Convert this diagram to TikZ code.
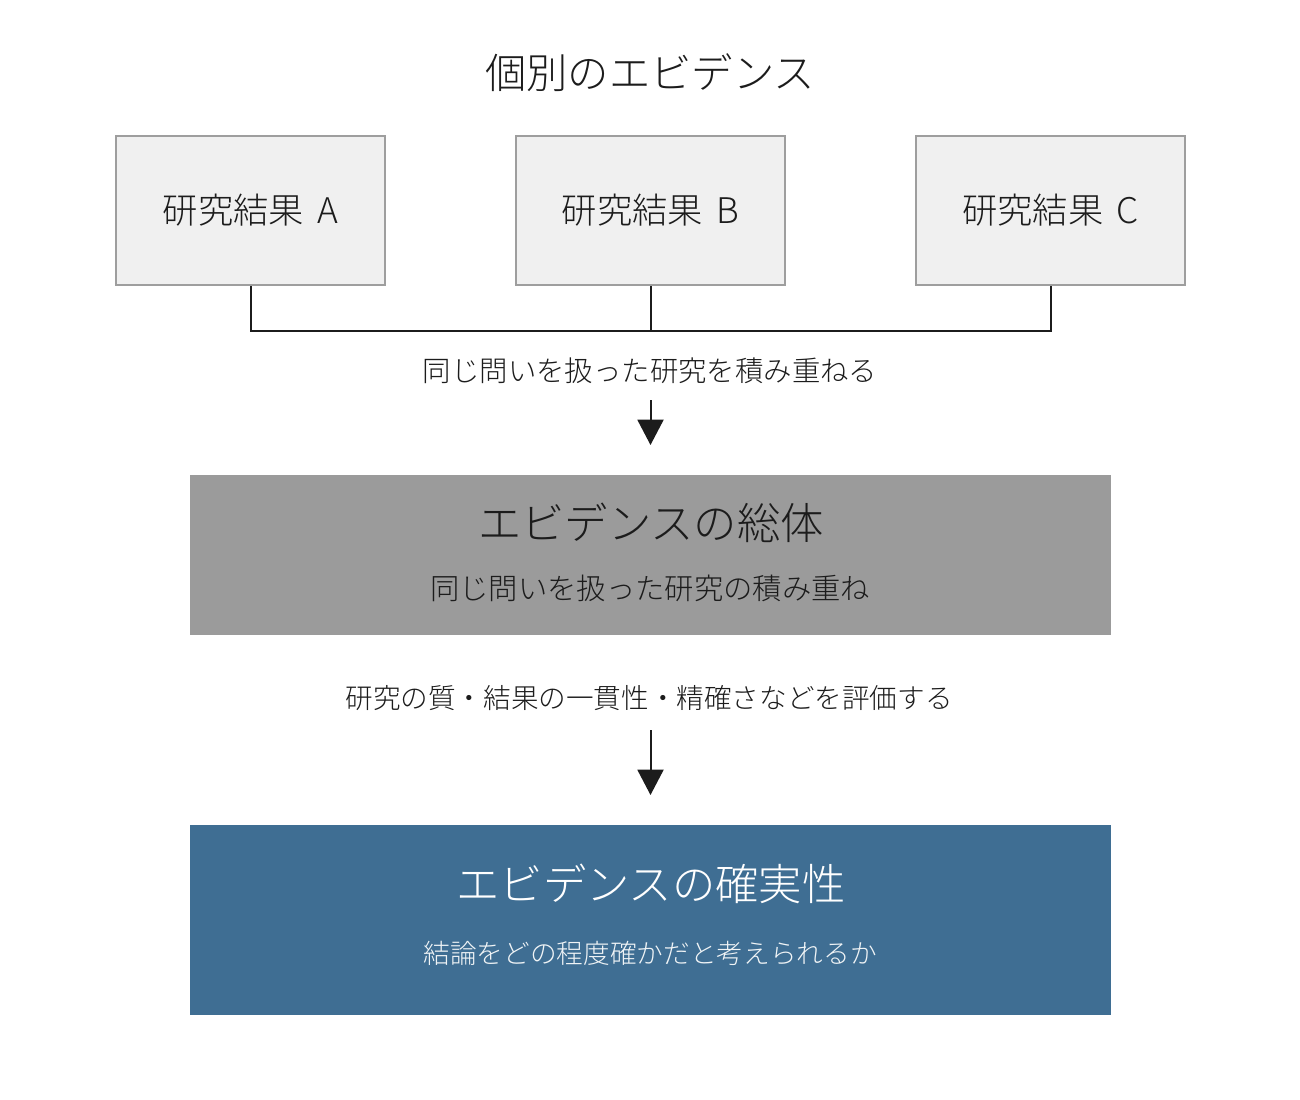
\documentclass[tikz,border=0pt]{standalone}
\usepackage{fontspec}
\setmainfont{Noto Sans CJK JP}[UprightFont={* Light}]
\usepackage{xcolor}
\usepackage{tikz}
\usetikzlibrary{arrows.meta}

\definecolor{resultfill}{HTML}{F0F0F0}
\definecolor{resultline}{HTML}{9E9E9E}
\definecolor{bodyfill}{HTML}{9B9B9B}
\definecolor{certfill}{HTML}{3F6E93}
\definecolor{ink}{HTML}{1C1C1C}

\begin{document}
\begin{tikzpicture}[x=0.75pt, y=-0.75pt,
        result/.style={draw=resultline, line width=1.5pt, fill=resultfill,
            minimum width=201.75pt, minimum height=111.75pt, inner sep=0pt,
            text=ink, font=\fontsize{26.5pt}{31pt}\selectfont},
        band/.style={minimum width=690.75pt, inner sep=0pt},
        step label/.style={text=ink, font=\fontsize{21.3pt}{25pt}\selectfont},
        link/.style={line width=1.5pt, ink},
        flow/.style={line width=1.5pt, ink, -{Triangle[length=19pt, width=19.5pt]}}]
        \useasboundingbox (0,0) rectangle (1300,1100);

        % Title and the three results.
        \node[text=ink, font=\fontsize{31pt}{36pt}\selectfont] (title) at (650,73) {個別のエビデンス};
        \node[result] (resa) at (250.5,210.5) {研究結果\hspace{0.15em} A};
        \node[result] (resb) at (650.5,210.5) {研究結果\hspace{0.15em} B};
        \node[result] (resc) at (1050.5,210.5) {研究結果\hspace{0.15em} C};

        % Joining bracket.
        \coordinate (join) at (650.5,331);
        \draw[link] (resa.south) |- (join) -| (resc.south);
        \draw[link] (resb.south) -- (join);

        \node[step label] (stack) at (650,371) {同じ問いを扱った研究を積み重ねる};
        \coordinate (stacktop) at (650.5,400);
        \coordinate (stackend) at (650.5,445);
        \draw[flow] (stacktop) -- (stackend);

        % Body of evidence.
        \node[band, fill=bodyfill, minimum height=120pt] (body) at (650.5,555) {};
        \node[text=ink, font=\fontsize{32.5pt}{38pt}\selectfont] (bodytitle) at (651,523) {エビデンスの総体};
        \node[text=ink, font=\fontsize{22pt}{26pt}\selectfont] (bodysub) at (650,588) {同じ問いを扱った研究の積み重ね};

        \node[step label, font=\fontsize{20.7pt}{24pt}\selectfont] (assess) at (649,698) {研究の質・結果の一貫性・精確さなどを評価する};
        \coordinate (assesstop) at (650.5,730);
        \coordinate (assessend) at (650.5,795);
        \draw[flow] (assesstop) -- (assessend);

        % Certainty of evidence.
        \node[band, fill=certfill, minimum height=142.5pt] (cert) at (650.5,920) {};
        \node[text=white, font=\fontsize{32.5pt}{38pt}\selectfont] (certtitle) at (651,884) {エビデンスの確実性};
        \node[text=white!92!certfill, font=\fontsize{20pt}{24pt}\selectfont] (certsub) at (650,953) {結論をどの程度確かだと考えられるか};
    \end{tikzpicture}
\end{document}
